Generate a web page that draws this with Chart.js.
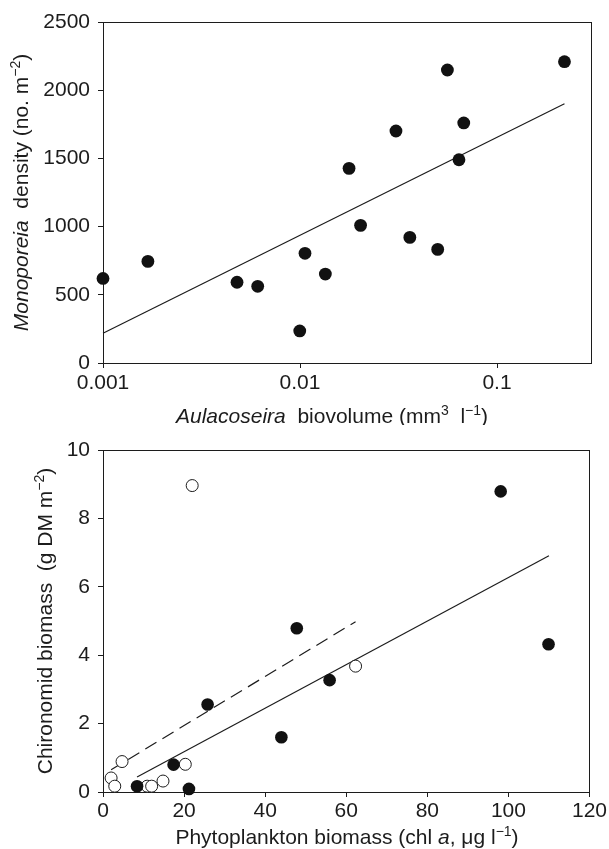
<!DOCTYPE html>
<html>
<head>
<meta charset="utf-8">
<script src="https://cdn.jsdelivr.net/npm/chart.js@4.4.0/dist/chart.umd.min.js"></script>
<style>
html,body{margin:0;padding:0;background:#fff;}
#wrap{position:relative;width:609px;height:849px;}
#wrap canvas{position:absolute;left:0;}
</style>
</head>
<body>
<div id="wrap">
  <canvas id="topChart" width="609" height="425" style="top:0"></canvas>
  <canvas id="botChart" width="609" height="424" style="top:425px"></canvas>
</div>
<script>
// top panel: Monoporeia vs Aulacoseira (log x)
const aulacoseira = [0.001, 0.00169, 0.00479, 0.0061, 0.00997, 0.0106, 0.01345, 0.01774, 0.0203, 0.0307, 0.0361, 0.050, 0.056, 0.0641, 0.0678, 0.220];
const monoporeia  = [620, 745, 592, 562, 235, 804, 652, 1427, 1009, 1701, 921, 833, 2148, 1490, 1760, 2209];
const topFitX = [0.001, 0.22];
const topFitY = [218, 1901];
const topXTicks = [0.001, 0.01, 0.1];
const topXTickLabels = ['0.001', '0.01', '0.1'];

// bottom panel: chironomids vs phytoplankton
const phytoFilled = [8.4, 17.4, 21.2, 25.8, 44.0, 47.8, 55.9, 98.1, 109.9];
const chiroFilled = [0.17, 0.80, 0.09, 2.56, 1.60, 4.79, 3.27, 8.79, 4.32];
const phytoOpen   = [2.0, 2.9, 4.7, 10.9, 12.0, 14.8, 20.3, 22.0, 62.3];
const chiroOpen   = [0.41, 0.17, 0.89, 0.17, 0.17, 0.32, 0.81, 8.96, 3.68];
const solidFitX = [8.4, 110];
const solidFitY = [0.44, 6.91];
const dashFitX = [2.0, 62.3];
const dashFitY = [0.65, 4.98];

const FONT = '"Liberation Sans", Arial, Helvetica, sans-serif';
const INK = '#1c1c1c';
const zip = (xs, ys) => xs.map((x,i)=>({x, y: ys[i]}));

function richText(ctx, parts, cx, cy, rotate){
  const fontOf = p => `${p.it?'italic ':''}${p.sup?14:21}px ${FONT}`;
  let total = 0;
  parts.forEach(p => { ctx.font = fontOf(p); p.w = ctx.measureText(p.t).width; total += p.w; });
  ctx.save();
  ctx.translate(cx, cy);
  if(rotate) ctx.rotate(-Math.PI/2);
  ctx.fillStyle = INK;
  ctx.textBaseline = 'middle';
  ctx.textAlign = 'left';
  let x = -total/2;
  parts.forEach(p => {
    ctx.font = fontOf(p);
    ctx.fillText(p.t, x, p.sup ? -6 : 0);
    x += p.w;
  });
  ctx.restore();
}

function framePlugin(titles){
  return {
    id: 'frame',
    beforeDatasetsDraw(chart){
      const a = chart.chartArea, ctx = chart.ctx;
      ctx.save();
      ctx.strokeStyle = INK;
      ctx.lineWidth = 1;
      ctx.strokeRect(Math.round(a.left)+0.5, Math.round(a.top)+0.5, Math.round(a.right-a.left), Math.round(a.bottom-a.top));
      ctx.restore();
    },
    afterDraw(chart){
      titles.forEach(t => richText(chart.ctx, t.parts, t.x, t.y, t.rotate));
    }
  };
}

function axisBase(){
  return {
    grid: { drawOnChartArea:false, drawTicks:true, tickLength:5, color:INK, lineWidth:1 },
    border: { display:true, color:INK, width:1 },
    ticks: { color:INK, font:{ family:FONT, size:21 }, autoSkip:false, maxRotation:0, callback: v => String(v) }
  };
}

const common = {
  responsive:false,
  animation:false,
  devicePixelRatio:1,
  plugins:{ legend:{display:false}, tooltip:{enabled:false} }
};

// top chart
const topX = axisBase();
Object.assign(topX, {
  type:'logarithmic', min:0.001, max:0.3,
  afterBuildTicks: s => { s.ticks = topXTicks.map(v => ({value:v})); },
  afterFit: s => { s.height = 62; }
});
topX.ticks = Object.assign(topX.ticks, { padding:3, callback:(v,i) => topXTickLabels[i] });
const topY = axisBase();
Object.assign(topY, { min:0, max:2500, afterFit: s => { s.width = 103; } });
topY.ticks = Object.assign(topY.ticks, { stepSize:500, padding:8 });

new Chart(document.getElementById('topChart'), {
  type:'scatter',
  data:{ datasets:[
    { data: zip(aulacoseira, monoporeia), pointRadius:6.4, pointBackgroundColor:'#111', pointBorderColor:'#111', pointBorderWidth:0, clip:false, order:0 },
    { data: zip(topFitX, topFitY), showLine:true, pointRadius:0, borderColor:INK, borderWidth:1.2, clip:false, order:1 }
  ]},
  options: Object.assign({}, common, {
    layout:{ padding:{ top:22, right:18, left:0, bottom:0 } },
    scales:{ x: topX, y: topY }
  }),
  plugins:[ framePlugin([
    { x:22, y:192.5, rotate:true, parts:[ {t:'Monoporeia', it:true}, {t:'  density (no. m'}, {t:'\u22122', sup:true}, {t:')'} ] },
    { x:332, y:417, rotate:false, parts:[ {t:'Aulacoseira', it:true}, {t:'  biovolume (mm'}, {t:'3', sup:true}, {t:'  l'}, {t:'\u22121', sup:true}, {t:')'} ] }
  ]) ]
});

// bottom chart
const botX = axisBase();
Object.assign(botX, { min:0, max:120, afterFit: s => { s.height = 57; } });
botX.ticks = Object.assign(botX.ticks, { stepSize:20, padding:2 });
const botY = axisBase();
Object.assign(botY, { min:0, max:10, afterFit: s => { s.width = 103; } });
botY.ticks = Object.assign(botY.ticks, { stepSize:2, padding:8 });

new Chart(document.getElementById('botChart'), {
  type:'scatter',
  data:{ datasets:[
    { data: zip(phytoFilled, chiroFilled), pointRadius:6.3, pointBackgroundColor:'#111', pointBorderColor:'#111', pointBorderWidth:0, clip:false, order:0 },
    { data: zip(phytoOpen, chiroOpen), pointRadius:6, pointBackgroundColor:'#fff', pointBorderColor:INK, pointBorderWidth:1, clip:false, order:0 },
    { data: zip(solidFitX, solidFitY), showLine:true, pointRadius:0, borderColor:INK, borderWidth:1.2, clip:false, order:1 },
    { data: zip(dashFitX, dashFitY), showLine:true, pointRadius:0, borderColor:INK, borderWidth:1.2, borderDash:[13,7], clip:false, order:1 }
  ]},
  options: Object.assign({}, common, {
    layout:{ padding:{ top:25, right:18, left:0, bottom:0 } },
    scales:{ x: botX, y: botY }
  }),
  plugins:[ framePlugin([
    { x:46, y:196, rotate:true, parts:[ {t:'Chironomid biomass  (g DM m'}, {t:'\u22122', sup:true}, {t:')'} ] },
    { x:347, y:413, rotate:false, parts:[ {t:'Phytoplankton biomass (chl '}, {t:'a', it:true}, {t:', \u03bcg l'}, {t:'\u22121', sup:true}, {t:')'} ] }
  ]) ]
});
</script>
</body>
</html>
